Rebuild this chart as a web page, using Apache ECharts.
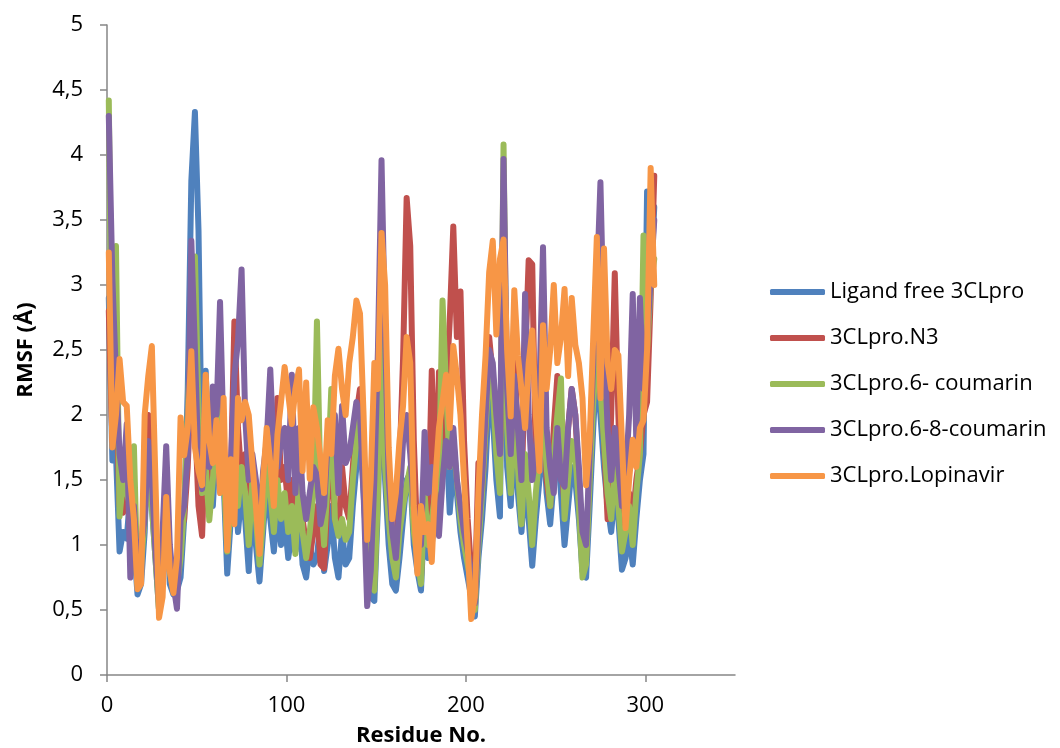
<!DOCTYPE html>
<html>
<head>
<meta charset="utf-8">
<script src="https://cdn.jsdelivr.net/npm/echarts@6/dist/echarts.min.js"></script>
<style>
  html, body { margin: 0; padding: 0; background: #fff; }
  #chart { width: 1060px; height: 748px; }
</style>
</head>
<body>
<div id="chart"></div>
<script>
// residues sampled every 2 (1, 3, 5, ... 305)
const residues = Array.from({ length: 153 }, (_, i) => 2 * i + 1)

const seriesNames = ['Ligand free 3CLpro', '3CLpro.N3', '3CLpro.6- coumarin', '3CLpro.6-8-coumarin', '3CLpro.Lopinavir']
const colors = ['#4F81BD', '#C0504D', '#9BBB59', '#8064A2', '#F79646']

const xTicks = [0, 100, 200, 300]

const ligandFree = [
  2.9, 1.65, 1.7, 0.95, 1.1, 1.05, 1.4, 1.0, 0.62, 0.7,
  1.1, 1.9, 1.3, 0.9, 0.5, 0.9, 1.4, 0.7, 0.62, 0.65,
  0.75, 1.2, 2.2, 3.8, 4.33, 3.42, 1.5, 2.34, 1.6, 1.3,
  1.8, 2.0, 1.5, 0.78, 1.2, 1.6, 1.1, 1.4, 1.2, 0.8,
  1.4, 1.0, 0.72, 1.1, 1.5, 1.2, 0.95, 1.3, 1.0, 1.2,
  0.9, 1.1, 0.95, 1.3, 0.85, 0.75, 1.0, 0.85, 0.9, 1.2,
  0.8, 1.0, 1.3, 0.9, 0.75, 1.1, 0.85, 0.9, 1.3, 1.6,
  1.9, 1.4, 0.9, 0.6, 0.57, 1.3, 2.5, 1.5, 1.0, 0.7,
  0.65, 0.9, 1.2, 1.5, 1.55, 1.0, 0.8, 0.65, 1.3, 0.9,
  1.0, 1.3, 1.2, 1.6, 1.9, 1.25, 1.6, 1.4, 1.1, 0.9,
  0.75, 0.6, 0.45, 0.9, 1.2, 1.6, 2.2, 2.0, 1.5, 1.22,
  3.8, 1.6, 1.3, 1.9, 1.4, 1.1, 1.5, 1.2, 0.84, 1.2,
  1.5, 1.9, 1.4, 1.16, 1.5, 1.8, 1.4, 1.0, 1.3, 1.6,
  1.5, 1.2, 0.8, 0.75, 1.3, 1.9, 2.4, 2.0, 1.6, 1.3,
  1.1, 1.4, 1.2, 0.81, 0.9, 1.1, 0.85, 1.2, 1.5, 1.7,
  3.72, 3.0, 3.6
]

const n3 = [
  2.8, 1.8, 2.2, 1.3, 1.25, 1.6, 1.2, 1.1, 0.75, 0.9,
  1.4, 2.0, 1.6, 1.0, 0.6, 0.9, 1.5, 0.9, 0.7, 0.8,
  1.1, 1.2, 1.6, 2.3, 2.0, 1.3, 1.07, 1.9, 1.5, 1.7,
  2.1, 2.2, 1.7, 1.0, 1.5, 2.72, 1.9, 1.5, 1.7, 1.2,
  1.6, 1.3, 0.9, 1.4, 1.7, 1.6, 1.4, 2.13, 1.5, 1.6,
  1.3, 1.5, 1.2, 1.7, 1.2, 1.0, 0.9, 1.1, 1.3, 0.85,
  0.82, 1.4, 1.6, 1.2, 1.1, 1.6, 1.3, 1.2, 1.6, 2.0,
  2.2, 1.7, 1.1, 0.7, 0.75, 1.5, 2.9, 1.9, 1.3, 1.0,
  0.9, 1.6, 2.43, 3.67, 3.3, 1.8, 1.0, 0.75, 1.5, 1.2,
  2.34, 1.3, 2.33, 1.7, 2.2, 2.72, 3.45, 2.6, 2.95, 1.8,
  1.2, 0.8, 0.6, 1.63, 1.4, 1.9, 2.6, 2.3, 1.9, 1.6,
  3.0, 2.0, 1.5, 2.5, 1.8, 1.4, 2.4, 3.19, 3.16, 1.6,
  1.9, 2.4, 1.5, 1.3, 1.9, 2.3, 1.7, 1.3, 1.9, 2.2,
  2.0, 1.5, 1.0, 0.9, 1.6, 2.2, 2.8, 2.4, 1.8, 1.2,
  2.0, 3.09, 2.0, 1.2, 1.1, 1.4, 1.2, 1.5, 1.7, 2.0,
  2.1, 2.9, 3.84
]

const coumarin6 = [
  4.42, 2.0, 3.3, 1.22, 1.5, 1.4, 1.3, 1.76, 0.7, 0.85,
  1.2, 1.6, 1.3, 0.9, 0.5, 1.0, 1.5, 0.8, 0.65, 0.7,
  0.9, 1.3, 2.0, 2.8, 3.22, 2.0, 1.4, 1.6, 1.19, 1.5,
  1.9, 2.1, 1.6, 0.95, 1.3, 1.9, 1.3, 1.6, 1.4, 1.0,
  1.5, 1.2, 0.85, 1.2, 1.6, 1.4, 1.1, 1.5, 1.2, 1.4,
  1.1, 1.3, 0.93, 1.5, 1.1, 0.9, 1.1, 1.4, 2.72, 1.4,
  1.0, 1.5, 2.2, 1.2, 1.07, 1.2, 1.04, 1.1, 1.5, 1.8,
  2.0, 1.5, 1.0, 0.7, 0.65, 1.4, 2.7, 1.6, 1.2, 0.9,
  0.75, 1.1, 1.3, 1.46, 1.6, 1.1, 0.9, 0.7, 1.4, 1.0,
  1.2, 1.4, 1.5, 2.88, 2.2, 1.6, 1.8, 1.5, 1.2, 1.0,
  0.85, 0.7, 0.5, 1.0, 1.4, 1.9, 2.4, 2.2, 1.7, 1.4,
  4.08, 1.9, 1.4, 2.0, 1.6, 1.16, 1.7, 1.4, 1.0, 1.4,
  1.7, 2.0, 1.6, 1.3, 1.7, 2.0, 2.28, 1.2, 1.5, 1.8,
  1.7, 1.3, 0.75, 0.85, 1.5, 2.1, 2.5, 2.2, 1.8, 1.4,
  1.2, 1.6, 1.3, 0.95, 1.1, 1.3, 1.0, 1.4, 1.7, 3.38,
  2.5, 3.0, 3.2
]

const coumarin68 = [
  4.3, 3.05, 2.3, 1.7, 1.5, 1.93, 0.75, 1.3, 0.8, 1.0,
  1.2, 1.8, 1.5, 0.95, 0.55, 1.1, 1.76, 1.0, 0.7, 0.51,
  1.19, 1.3, 1.7, 3.34, 2.5, 1.6, 1.43, 1.8, 1.6, 2.22,
  2.0, 2.87, 1.8, 1.2, 1.6, 2.3, 2.57, 3.12, 2.0, 1.5,
  1.7, 1.5, 1.1, 1.57, 1.8, 2.35, 1.7, 1.6, 1.8, 1.9,
  1.5, 2.31, 1.4, 1.9, 1.4, 1.2, 1.4, 1.6, 1.54, 1.16,
  1.3, 1.8, 1.72, 2.0, 1.4, 2.07, 1.63, 1.7, 1.9, 2.1,
  2.0, 1.4, 0.53, 0.8, 1.5, 2.5, 3.96, 2.6, 1.5, 1.1,
  0.9, 1.3, 1.8, 2.0, 1.7, 1.3, 1.1, 1.0, 1.87, 1.4,
  1.6, 1.3, 1.07, 1.5, 1.8, 1.6, 1.9, 1.5, 1.3, 1.1,
  0.95, 0.8, 0.55, 1.1, 1.5, 2.0, 2.5, 2.4, 2.0, 1.7,
  3.97, 2.2, 1.7, 2.3, 1.9, 1.5, 2.93, 2.0, 1.5, 1.7,
  2.2, 3.29, 1.9, 1.6, 1.4, 1.9, 1.5, 1.45, 1.9, 2.2,
  2.0, 1.6, 1.1, 1.0, 1.7, 2.4, 3.0, 3.79, 2.6, 1.9,
  1.5, 1.9, 1.6, 1.3, 1.5, 2.0, 2.93, 1.8, 2.9, 2.2,
  2.6, 3.04, 3.5
]

const lopinavir = [
  3.25, 1.75, 2.0, 2.43, 2.1, 2.07, 1.5, 1.2, 0.66, 0.7,
  2.0, 2.3, 2.53, 1.5, 0.44, 0.6, 1.37, 0.8, 0.63, 0.9,
  1.98, 1.69, 1.9, 2.49, 1.75, 1.57, 1.46, 2.31, 1.8, 1.63,
  1.96, 1.4, 2.13, 0.96, 1.66, 1.16, 2.13, 1.96, 2.1, 2.0,
  1.63, 1.3, 0.93, 1.5, 1.9, 1.63, 1.3, 1.85, 2.1, 2.37,
  2.16, 1.93, 2.2, 2.35, 1.57, 2.25, 1.51, 2.06, 1.9, 1.66,
  1.4, 1.96, 1.7, 2.3, 2.51, 2.2, 2.0, 2.4, 2.6, 2.88,
  2.78, 2.0, 1.04, 1.5, 2.4, 2.2, 3.4, 3.0, 1.75, 1.2,
  1.4, 1.8, 2.07, 2.6, 2.4, 1.3, 0.78, 1.3, 1.1, 1.16,
  0.87, 1.5, 1.9, 2.1, 2.31, 1.9, 2.53, 2.3, 2.0, 1.5,
  1.0, 0.43, 0.6, 1.4, 2.0, 2.46, 3.1, 3.34, 2.62, 3.2,
  3.35, 2.5, 1.99, 2.96, 2.46, 2.2, 1.9, 2.4, 2.65, 2.0,
  1.57, 2.69, 2.2, 2.5, 3.0, 2.4, 2.6, 2.97, 2.3, 2.9,
  2.54, 2.4, 2.13, 1.46, 1.8, 2.6, 3.37, 2.13, 3.28, 2.4,
  2.2, 2.5, 2.46, 1.8, 1.13, 1.5, 1.81, 1.6, 1.9, 1.96,
  2.5, 3.9, 3.0
]

const seriesValues = [ligandFree, n3, coumarin6, coumarin68, lopinavir]

const font = 'Open Sans'

const chart = echarts.init(document.getElementById('chart'))
chart.setOption({
  animation: false,
  textStyle: { fontFamily: font, color: '#000' },
  grid: { left: 107, right: 325, top: 25, bottom: 73, outerBoundsMode: 'none', containLabel: false },
  legend: {
    orient: 'vertical',
    left: 765,
    top: 276,
    icon: 'roundRect',
    itemWidth: 55,
    itemHeight: 6,
    itemGap: 24,
    textStyle: { fontSize: 22, color: '#000', fontFamily: font },
    data: seriesNames,
  },
  xAxis: {
    type: 'value',
    min: 0,
    max: 350,
    interval: 100,
    name: 'Residue No.',
    nameLocation: 'middle',
    nameGap: 50,
    nameTextStyle: { fontSize: 22, fontWeight: 'bold', color: '#000', fontFamily: font },
    axisLine: { lineStyle: { color: '#868686', width: 1.5 } },
    axisTick: { customValues: xTicks, length: 7, lineStyle: { color: '#868686', width: 1.5 } },
    axisLabel: { customValues: xTicks, fontSize: 22, color: '#000', margin: 20, fontFamily: font },
    splitLine: { show: false },
  },
  yAxis: {
    type: 'value',
    min: 0,
    max: 5,
    interval: 0.5,
    name: 'RMSF (Å)',
    nameLocation: 'middle',
    nameRotate: 90,
    nameGap: 70,
    nameTextStyle: { fontSize: 22, fontWeight: 'bold', color: '#000', fontFamily: font },
    axisLine: { show: true, lineStyle: { color: '#868686', width: 1.5 } },
    axisTick: { show: true, length: 7, lineStyle: { color: '#868686', width: 1.5 } },
    axisLabel: {
      fontSize: 22,
      color: '#000',
      margin: 24,
      fontFamily: font,
      formatter: (v) => String(v).replace('.', ','),
    },
    splitLine: { show: false },
  },
  series: seriesValues.map((vals, k) => ({
    type: 'line',
    name: seriesNames[k],
    data: vals.map((v, i) => [residues[i], v]),
    symbol: 'none',
    color: colors[k],
    lineStyle: { width: 6, color: colors[k], cap: 'round', join: 'round' },
  })),
})
</script>
</body>
</html>
